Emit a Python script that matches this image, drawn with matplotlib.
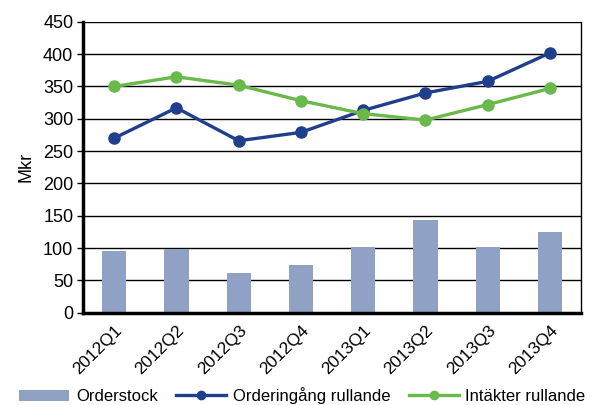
import matplotlib
matplotlib.use("Agg")
import matplotlib.pyplot as plt
import numpy as np

plt.rcParams['font.family'] = ['Liberation Sans', 'DejaVu Sans']

quarters = ["2012Q1", "2012Q2", "2012Q3", "2012Q4",
            "2013Q1", "2013Q2", "2013Q3", "2013Q4"]
orderstock = [95, 98, 61, 73, 101, 144, 101, 125]
orderingang = [270, 317, 266, 279, 313, 340, 358, 402]
intakter = [350, 365, 352, 328, 308, 298, 322, 347]

barColor = "#8fa2c6"
blue = "#1f3f8d"
green = "#6ab94b"
fs = 13

fig = plt.figure(figsize=(5.93, 4.05), dpi=100)
ax = fig.add_axes([0.14, 0.228, 0.84, 0.718])

x = np.arange(len(quarters))
bars = ax.bar(x, orderstock, width=0.39, color=barColor, label="Orderstock", zorder=2)
l1, = ax.plot(x, orderingang, color=blue, lw=2.4, marker="o", ms=8,
              label="Orderingång rullande", zorder=3)
l2, = ax.plot(x, intakter, color=green, lw=2.4, marker="o", ms=8,
              label="Intäkter rullande", zorder=3)

ax.set_xlim(-0.5, len(quarters) - 0.5)
ax.set_ylim(0, 450)
ax.set_yticks(range(0, 451, 50))
ax.yaxis.grid(True, color="black", lw=1)
ax.set_axisbelow(True)

ax.set_xticks(x)
ax.set_xticklabels(quarters, rotation=45, ha="right", rotation_mode="anchor")
ax.tick_params(axis="x", length=0, pad=7, labelsize=12.5)
ax.tick_params(axis="y", length=4, width=1, labelsize=fs, pad=3)

ax.spines["left"].set_linewidth(2.5)
ax.spines["bottom"].set_linewidth(2.5)
ax.spines["top"].set_visible(False)
ax.spines["right"].set_linewidth(1)

ax.set_ylabel("Mkr", fontsize=fs, labelpad=6)

leg = fig.legend([bars, l1, l2], ["Orderstock", "Orderingång rullande", "Intäkter rullande"],
                 loc="lower center", bbox_to_anchor=(0.51, -0.035), ncol=3,
                 frameon=False, fontsize=12, handlelength=3.0, columnspacing=1.1,
                 handletextpad=0.4)
for h in leg.legend_handles[1:]:
    h.set_markersize(6)

fig.savefig("out.png", dpi=100)
